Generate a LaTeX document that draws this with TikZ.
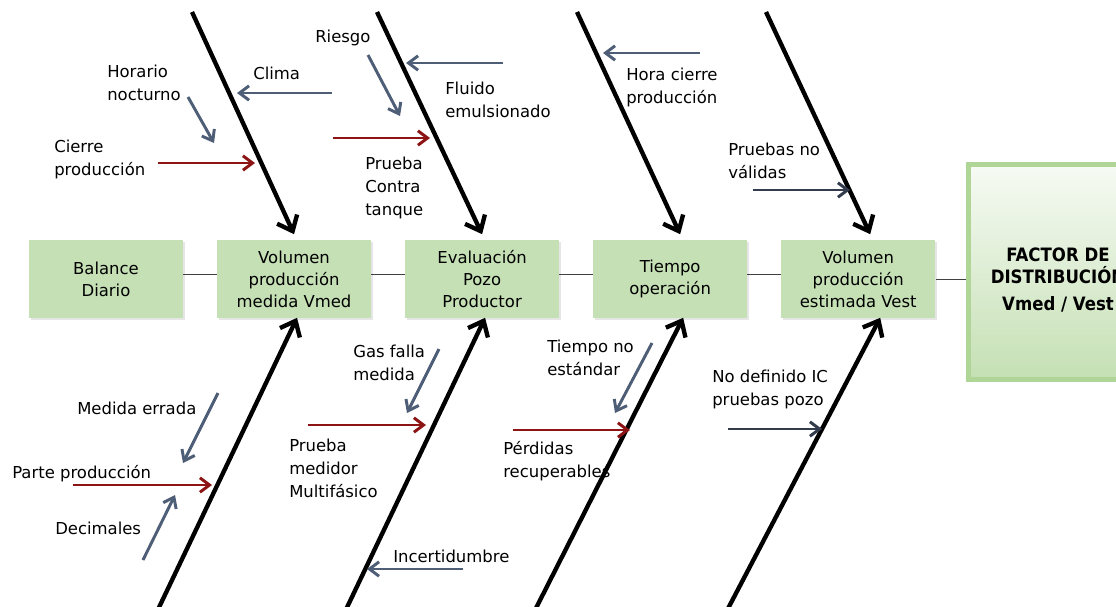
\documentclass[tikz,border=0pt]{standalone}
\usepackage{fontspec}
\setmainfont{DejaVu Sans}
\newfontfamily\factorfont{DejaVu Sans Condensed}
\usetikzlibrary{shapes,arrows.meta,shadows}
\definecolor{boxgreen}{RGB}{197,224,180}
\definecolor{glowgreen}{RGB}{175,214,150}
\definecolor{slate}{RGB}{78,94,118}
\definecolor{darkslate}{RGB}{51,60,76}
\definecolor{causered}{RGB}{140,20,20}
\tikzstyle{block} = [rectangle, fill=boxgreen, minimum height=1.925cm, minimum width=3.85cm, align=center, font=\fontsize{11.7}{15.6}\selectfont, drop shadow={shadow xshift=0.05cm, shadow yshift=-0.05cm, opacity=0.2}]
\tikzstyle{factor} = [rectangle, draw=glowgreen, line width=0.12cm, top color=boxgreen!15, middle color=boxgreen!75, bottom color=boxgreen, minimum height=5.375cm, minimum width=4.275cm]
\tikzstyle{factortext} = [align=center, font=\factorfont\bfseries\fontsize{13.1}{15.6}\selectfont]
\tikzstyle{cause} = [anchor=north west, inner sep=0pt, align=left, font=\fontsize{11.7}{16.4}\selectfont]
\tikzstyle{bone} = [-{Straight Barb[length=0.33cm, width=0.55cm]}, line width=3.1pt]
\tikzstyle{sub} = [-{Straight Barb[length=0.24cm, width=0.36cm]}, line width=2.1pt, draw=slate]
\tikzstyle{subred} = [sub, draw=causered]
\tikzstyle{subdark} = [sub, draw=darkslate]
\tikzstyle{spine} = [draw=black!75, line width=0.6pt]

\begin{document}
\begin{tikzpicture}[x=0.025cm, y=-0.025cm, node distance=4.7cm]
            \useasboundingbox (0,0) rectangle (1116,606);
            % effect chain
            \node [block] at (106,279) (bal) {Balance\\Diario};
            \node [block, right of=bal] (vmed) {Volumen\\producción\\medida Vmed};
            \node [block, right of=vmed] (evp) {Evaluación\\Pozo\\Productor};
            \node [block, right of=evp] (top) {Tiempo\\operación};
            \node [block, right of=top] (vest) {Volumen\\producción\\estimada Vest};
            \node [factor] at (1054,272) (fd) {};
            \node [factortext] at ([xshift=0.1cm, yshift=-0.2cm]fd.center) (fdtext) {FACTOR DE\\DISTRIBUCIÓN\\[4pt]Vmed / Vest};

            \draw [spine] ([yshift=0.125cm]bal.east) -- ([yshift=0.125cm]vmed.west);
            \draw [spine] ([yshift=0.125cm]vmed.east) -- ([yshift=0.125cm]evp.west);
            \draw [spine] ([yshift=0.125cm]evp.east) -- ([yshift=0.125cm]top.west);
            \draw [spine] ([yshift=0.125cm]top.east) -- ([yshift=0.125cm]vest.west);
            \draw [spine] (vest.east) -- (vest.east -| fd.west);

            % main bones
            \coordinate (u1) at (192,12);
            \coordinate (u2) at (377,12);
            \coordinate (u3) at (577,12);
            \coordinate (u4) at (766,12);
            \coordinate (l1) at (153,620);
            \coordinate (l2) at (341,620);
            \coordinate (l3) at (530,620);
            \coordinate (l4) at (722,620);
            \draw [bone] (u1) -- ([yshift=0.15cm]vmed.north);
            \draw [bone] (u2) -- ([yshift=0.15cm]evp.north);
            \draw [bone] (u3) -- ([xshift=0.25cm, yshift=0.15cm]top.north);
            \draw [bone] (u4) -- ([xshift=0.3cm, yshift=0.15cm]vest.north);
            \draw [bone] (l1) -- ([xshift=0.075cm]vmed.south);
            \draw [bone] (l2) -- ([xshift=0.075cm]evp.south);
            \draw [bone] (l3) -- ([xshift=0.325cm]top.south);
            \draw [bone] (l4) -- ([xshift=0.55cm]vest.south);

            % causes
            \node [cause] at (107,65) (horario) {Horario\\nocturno};
            \node [cause] at (253,67) (clima) {Clima};
            \node [cause] at (54,140) (cierre) {Cierre\\producción};
            \node [cause] at (315,30) (riesgo) {Riesgo};
            \node [cause] at (445,82) (fluido) {Fluido\\emulsionado};
            \node [cause] at (365,157) (contra) {Prueba\\Contra\\tanque};
            \node [cause] at (626,68) (horacierre) {Hora cierre\\producción};
            \node [cause] at (728,143) (novalidas) {Pruebas no\\válidas};
            \node [cause] at (77,402) (medida) {Medida errada};
            \node [cause] at (12,465) (parte) {Parte producción};
            \node [cause] at (55,522) (decimales) {Decimales};
            \node [cause] at (353,345) (gasfalla) {Gas falla\\medida};
            \node [cause] at (289,439) (multif) {Prueba\\medidor\\Multifásico};
            \node [cause] at (393,550) (incert) {Incertidumbre};
            \node [cause] at (547,340) (noestandar) {Tiempo no\\estándar};
            \node [cause] at (503,441) (perdidas) {Pérdidas\\recuperables};
            \node [cause] at (712,370) (nodefinido) {No definido IC\\pruebas pozo};

            \coordinate (clima1) at (332,93);
            \coordinate (clima2) at (237,93);
            \coordinate (horario1) at (188,97);
            \coordinate (horario2) at (214,143);
            \coordinate (cierre1) at (158,163);
            \coordinate (cierre2) at (255,163);
            \coordinate (riesgo1) at (368,55);
            \coordinate (riesgo2) at (400,116);
            \coordinate (contra1) at (333,138);
            \coordinate (contra2) at (430,138);
            \coordinate (fluido1) at (503,63);
            \coordinate (fluido2) at (406,63);
            \coordinate (horacierre1) at (700,53);
            \coordinate (horacierre2) at (603,53);
            \coordinate (novalidas1) at (753,190);
            \coordinate (novalidas2) at (850,190);
            \coordinate (medida1) at (218,393);
            \coordinate (medida2) at (183,463);
            \coordinate (parte1) at (73,485);
            \coordinate (parte2) at (212,485);
            \coordinate (decimales1) at (143,560);
            \coordinate (decimales2) at (175,495);
            \coordinate (gasfalla1) at (439,349);
            \coordinate (gasfalla2) at (407,413);
            \coordinate (multif1) at (308,425);
            \coordinate (multif2) at (426,425);
            \coordinate (incert1) at (463,569);
            \coordinate (incert2) at (367,569);
            \coordinate (noestandar1) at (652,343);
            \coordinate (noestandar2) at (615,413);
            \coordinate (perdidas1) at (513,430);
            \coordinate (perdidas2) at (630,430);
            \coordinate (nodefinido1) at (728,429);
            \coordinate (nodefinido2) at (822,429);

            \draw [sub] (clima1) -- (clima2);
            \draw [sub] (horario1) -- (horario2);
            \draw [subred] (cierre1) -- (cierre2);
            \draw [sub] (riesgo1) -- (riesgo2);
            \draw [subred] (contra1) -- (contra2);
            \draw [sub] (fluido1) -- (fluido2);
            \draw [sub] (horacierre1) -- (horacierre2);
            \draw [subdark] (novalidas1) -- (novalidas2);
            \draw [sub] (medida1) -- (medida2);
            \draw [subred] (parte1) -- (parte2);
            \draw [sub] (decimales1) -- (decimales2);
            \draw [sub] (gasfalla1) -- (gasfalla2);
            \draw [subred] (multif1) -- (multif2);
            \draw [sub] (incert1) -- (incert2);
            \draw [sub] (noestandar1) -- (noestandar2);
            \draw [subred] (perdidas1) -- (perdidas2);
            \draw [subdark] (nodefinido1) -- (nodefinido2);
\end{tikzpicture}
\end{document}
